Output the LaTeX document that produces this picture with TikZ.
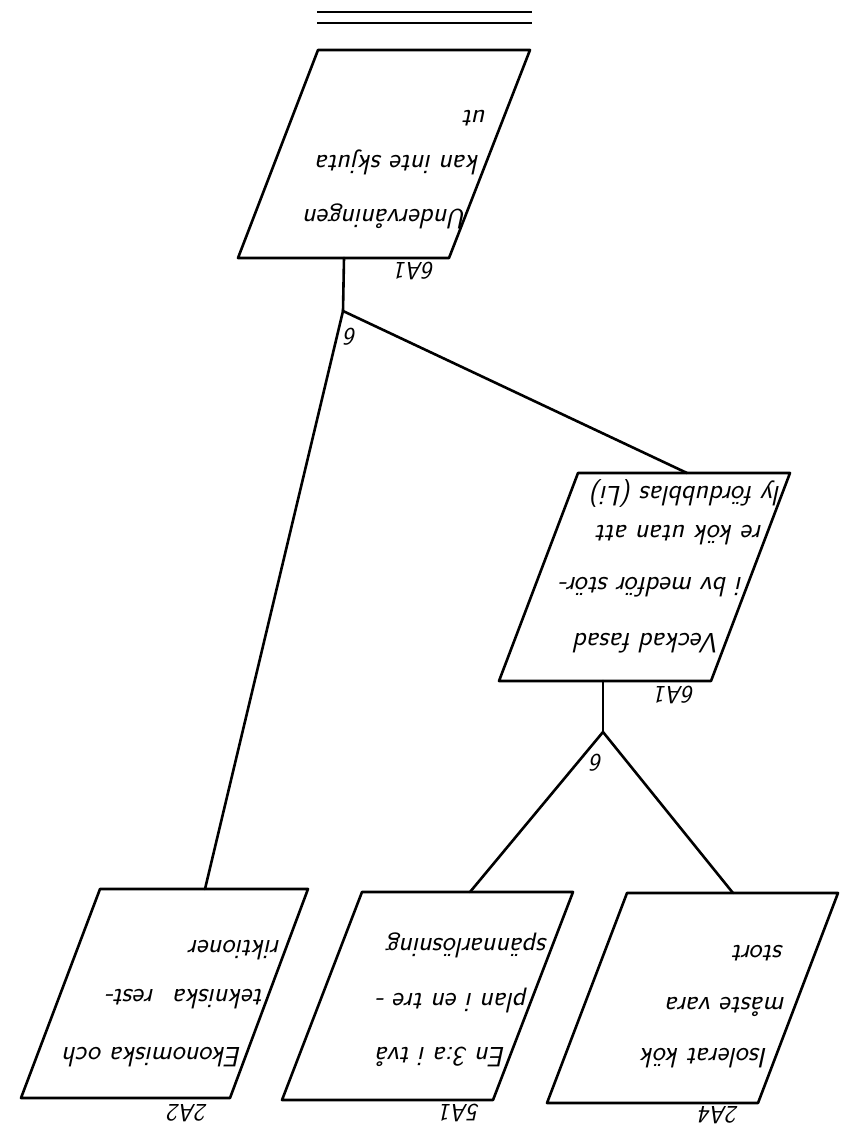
\documentclass[tikz,border=0pt]{standalone}
\usepackage{fontspec}
\begin{document}
\begin{tikzpicture}[x=1pt,y=-1pt,
  ink/.style={line width=2.6pt, line cap=round, line join=round},
  card/.style={ink},
  wire/.style={ink},
  hand/.style={font=\fontsize{28}{32}\selectfont\sffamily\slshape, rotate=180, anchor=west, inner sep=0pt},
  tag/.style={font=\fontsize{25}{28}\selectfont\sffamily\slshape, rotate=180, inner sep=0pt},
]
\useasboundingbox[fill=white] (0,0) rectangle (852,1140);

% closing double rule
\coordinate (r1a) at (317,12);  \coordinate (r1b) at (532,12);
\coordinate (r2a) at (317,23);  \coordinate (r2b) at (532,23);
\draw[line width=2.2pt] (r1a) -- (r1b);
\draw[line width=2.2pt] (r2a) -- (r2b);

% ---- card 6A1 (Undervåningen)
\coordinate (A-tl) at (318,50);  \coordinate (A-tr) at (530,50);
\coordinate (A-br) at (449,258); \coordinate (A-bl) at (238,258);
\draw[card] (A-tl) -- (A-tr) -- (A-br) -- (A-bl) -- cycle;
\node[hand] (a1) at (467,216) {Undervåningen};
\node[hand] (a2) at (480,162) {kan inte skjuta};
\node[hand] (a3) at (487,118) {ut};
\node[tag] (a-id) at (415,271) {6A1};

% ---- card 6A1 (Veckad fasad)
\coordinate (B-tl) at (578,473); \coordinate (B-tr) at (790,473);
\coordinate (B-br) at (711,681); \coordinate (B-bl) at (499,681);
\draw[card] (B-tl) -- (B-tr) -- (B-br) -- (B-bl) -- cycle;
\node[hand] (b1) at (720,643) {Veckad fasad};
\node[hand] (b2) at (743,587) {i bv medför stör-};
\node[hand] (b3) at (763,535) {re kök utan att};
\node[hand] (b4) at (781,493) {ly fördubblas (Li)};
\node[tag] (b-id) at (675,695) {6A1};

% ---- card 2A2
\coordinate (C-tl) at (100,889); \coordinate (C-tr) at (308,889);
\coordinate (C-br) at (230,1098); \coordinate (C-bl) at (21,1098);
\draw[card] (C-tl) -- (C-tr) -- (C-br) -- (C-bl) -- cycle;
\node[hand] (c1) at (281,950) {riktioner};
\node[hand] (c2) at (264,999) {tekniska\hspace{0.7em}rest-};
\node[hand] (c3) at (242,1057) {Ekonomiska och};
\node[tag] (c-id) at (188,1113) {2A2};

% ---- card 5A1
\coordinate (D-tl) at (362,892); \coordinate (D-tr) at (573,892);
\coordinate (D-br) at (493,1100); \coordinate (D-bl) at (282,1100);
\draw[card] (D-tl) -- (D-tr) -- (D-br) -- (D-bl) -- cycle;
\node[hand] (d1) at (548,945) {spännarlösning};
\node[hand] (d2) at (528,1000) {plan i en tre -};
\node[hand] (d3) at (506,1057) {En 3:a i två};
\node[tag] (d-id) at (460,1113) {5A1};

% ---- card 2A4
\coordinate (E-tl) at (627,893); \coordinate (E-tr) at (838,893);
\coordinate (E-br) at (758,1103); \coordinate (E-bl) at (547,1103);
\draw[card] (E-tl) -- (E-tr) -- (E-br) -- (E-bl) -- cycle;
\node[hand] (e1) at (784,953) {stort};
\node[hand] (e2) at (786,1007) {måste vara};
\node[hand] (e3) at (768,1058) {Isolerat kök};
\node[tag] (e-id) at (719,1115) {2A4};

% ---- connectors
\coordinate (A-out) at (344,258);
\coordinate (J1) at (343,311);
\coordinate (B-in) at (687,473);
\coordinate (C-in) at (205,889);
\draw[wire] (A-out) -- (J1);
\draw[wire] (J1) -- (B-in);
\draw[wire] (J1) -- (C-in);
\node[tag] (j1-n) at (351,337) {6};

\coordinate (B-out) at (603,681);
\coordinate (J2) at (603,732);
\coordinate (D-in) at (470,892);
\coordinate (E-in) at (733,893);
\draw[wire] (B-out) -- (J2);
\draw[wire] (J2) -- (D-in);
\draw[wire] (J2) -- (E-in);
\node[tag] (j2-n) at (597,763) {6};
\end{tikzpicture}
\end{document}
